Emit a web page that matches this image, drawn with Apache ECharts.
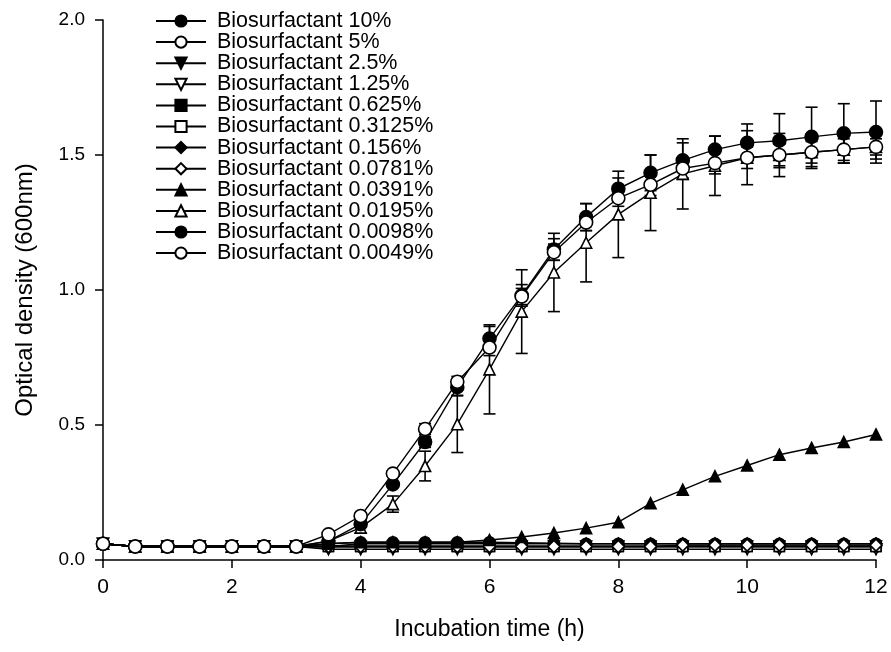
<!DOCTYPE html>
<html><head><meta charset="utf-8">
<script src="https://cdn.jsdelivr.net/npm/echarts@6/dist/echarts.min.js"></script>
<style>html,body{margin:0;padding:0;background:#fff}#c{width:891px;height:652px}</style>
</head><body><div id="c"></div>
<script>
const times = [0,0.5,1,1.5,2,2.5,3,3.5,4,4.5,5,5.5,6,6.5,7,7.5,8,8.5,9,9.5,10,10.5,11,11.5,12];
const seriesNames = ["Biosurfactant 10%","Biosurfactant 5%","Biosurfactant 2.5%","Biosurfactant 1.25%","Biosurfactant 0.625%","Biosurfactant 0.3125%","Biosurfactant 0.156%","Biosurfactant 0.0781%","Biosurfactant 0.0391%","Biosurfactant 0.0195%","Biosurfactant 0.0098%","Biosurfactant 0.0049%"];
const od10     = [0.06,0.05,0.05,0.05,0.05,0.05,0.05,0.06,0.066,0.066,0.066,0.066,0.066,0.064,0.062,0.06,0.06,0.06,0.06,0.06,0.06,0.06,0.06,0.06,0.06];
const od5      = [0.06,0.05,0.05,0.05,0.05,0.05,0.05,0.05,0.05,0.05,0.05,0.05,0.05,0.05,0.05,0.05,0.05,0.05,0.05,0.05,0.05,0.05,0.05,0.05,0.05];
const od2_5    = [0.06,0.05,0.05,0.05,0.05,0.05,0.05,0.05,0.05,0.05,0.05,0.05,0.05,0.05,0.05,0.05,0.05,0.05,0.05,0.05,0.05,0.05,0.05,0.05,0.05];
const od1_25   = [0.06,0.05,0.05,0.05,0.05,0.05,0.05,0.04,0.04,0.04,0.04,0.04,0.04,0.04,0.04,0.04,0.04,0.04,0.04,0.04,0.04,0.04,0.04,0.04,0.04];
const od0_625  = [0.06,0.05,0.05,0.05,0.05,0.05,0.05,0.05,0.05,0.05,0.05,0.05,0.05,0.05,0.05,0.05,0.05,0.05,0.05,0.05,0.05,0.05,0.05,0.05,0.05];
const od0_3125 = [0.06,0.05,0.05,0.05,0.05,0.05,0.05,0.05,0.05,0.05,0.05,0.05,0.05,0.05,0.05,0.05,0.05,0.05,0.05,0.05,0.05,0.05,0.05,0.05,0.05];
const od0_156  = [0.06,0.05,0.05,0.05,0.05,0.05,0.05,0.05,0.06,0.06,0.06,0.06,0.06,0.06,0.06,0.06,0.06,0.06,0.06,0.06,0.06,0.06,0.06,0.06,0.06];
const od0_0781 = [0.06,0.05,0.05,0.05,0.05,0.05,0.05,0.05,0.05,0.05,0.05,0.05,0.05,0.05,0.05,0.05,0.05,0.05,0.055,0.055,0.055,0.055,0.055,0.055,0.055];
const od0_0391 = [0.06,0.05,0.05,0.05,0.05,0.05,0.05,0.06,0.066,0.066,0.066,0.066,0.074,0.085,0.10,0.118,0.14,0.21,0.26,0.31,0.35,0.39,0.415,0.437,0.465];
const od0_0195 = [0.06,0.05,0.05,0.05,0.05,0.05,0.05,0.07,0.12,0.207,0.348,0.503,0.706,0.92,1.065,1.175,1.28,1.36,1.43,1.46,1.49,1.50,1.51,1.52,1.53];
const od0_0098 = [0.06,0.05,0.05,0.05,0.05,0.05,0.05,0.07,0.133,0.28,0.437,0.64,0.82,0.98,1.15,1.27,1.375,1.434,1.48,1.52,1.545,1.553,1.567,1.58,1.585];
const od0_0049 = [0.06,0.05,0.05,0.05,0.05,0.05,0.05,0.095,0.163,0.32,0.485,0.66,0.787,0.976,1.14,1.25,1.34,1.39,1.45,1.47,1.49,1.50,1.51,1.52,1.53];
const err0_0195 = [0,0,0,0,0,0,0,0,0.02,0.03,0.055,0.105,0.165,0.155,0.145,0.145,0.16,0.14,0.13,0.11,0.10,0.08,0.06,0.05,0.045];
const err0_0098 = [0,0,0,0,0,0,0,0,0.01,0.01,0.02,0.03,0.045,0.04,0.04,0.05,0.04,0.066,0.065,0.05,0.07,0.10,0.11,0.11,0.115];
const err0_0049 = [0,0,0,0,0,0,0,0,0.01,0.01,0.02,0.02,0.03,0.03,0.03,0.03,0.03,0.04,0.04,0.04,0.04,0.04,0.04,0.04,0.03];
const xTicks = [0,2,4,6,8,10,12];
const yTicks = [0,0.5,1.0,1.5,2.0];

const valuesList = [od10,od5,od2_5,od1_25,od0_625,od0_3125,od0_156,od0_0781,od0_0391,od0_0195,od0_0098,od0_0049];
const markers = [
  {s:'circle',f:true,r:0,z:11},{s:'circle',f:false,r:0,z:11},
  {s:'triangle',f:true,r:180,z:11},{s:'triangle',f:false,r:180,z:11},
  {s:'rect',f:true,r:0,z:10},{s:'rect',f:false,r:0,z:10},
  {s:'diamond',f:true,r:0,z:12},{s:'diamond',f:false,r:0,z:12},
  {s:'triangle',f:true,r:0,z:11},{s:'triangle',f:false,r:0,z:11},
  {s:'circle',f:true,r:0,z:13},{s:'circle',f:false,r:0,z:13}
];
const FONT = 'Liberation Sans, Arial, sans-serif';
const series = seriesNames.map((name,i)=>({
  name, type:'line', data: times.map((t,j)=>[t, valuesList[i][j]]),
  symbol: markers[i].s, symbolSize: markers[i].z, symbolRotate: markers[i].r,
  showSymbol:true,
  lineStyle:{color:'#000',width:1.4},
  itemStyle:{color: markers[i].f ? '#000' : '#fff', borderColor:'#000', borderWidth:1.6},
  emphasis:{disabled:true}, z: 3 + i
}));
function errSeries(vals, errs){
  return {
    type:'custom', z:2, silent:true,
    data: times.map((t,j)=>[t, vals[j], errs[j]]).filter(d=>d[2]>0),
    renderItem(params, api){
      const x=api.value(0), y=api.value(1), e=api.value(2);
      const top=api.coord([x,y+e]), bot=api.coord([x,y-e]);
      const w=6;
      const st={stroke:'#000',lineWidth:1.6};
      return {type:'group',children:[
        {type:'line',shape:{x1:top[0],y1:top[1],x2:bot[0],y2:bot[1]},style:st},
        {type:'line',shape:{x1:top[0]-w,y1:top[1],x2:top[0]+w,y2:top[1]},style:st},
        {type:'line',shape:{x1:bot[0]-w,y1:bot[1],x2:bot[0]+w,y2:bot[1]},style:st}
      ]};
    }
  };
}
series.push(errSeries(od0_0195, err0_0195));
series.push(errSeries(od0_0098, err0_0098));
series.push(errSeries(od0_0049, err0_0049));

const chart = echarts.init(document.getElementById('c'), null, {renderer:'canvas'});
chart.setOption({
  animation:false,
  backgroundColor:'#fff',
  grid:{left:103,right:15,top:20,bottom:92},
  legend:{
    data: seriesNames, orient:'vertical', left:150, top:5,
    itemWidth:50, itemHeight:14, itemGap:-0.9,
    textStyle:{fontFamily:FONT,fontSize:21.5,color:'#000',lineHeight:19,padding:[0,0,0,6]},
    selectedMode:false
  },
  xAxis:{
    type:'value', min:0, max:12, interval:2,
    name:'Incubation time (h)', nameLocation:'middle', nameGap:58,
    nameTextStyle:{fontFamily:FONT,fontSize:23,color:'#000'},
    axisLine:{show:true,lineStyle:{color:'#000',width:1.5}},
    axisTick:{show:true,length:8,lineStyle:{color:'#000',width:1.5}},
    axisLabel:{fontFamily:FONT,fontSize:21,color:'#000',margin:17,
      formatter:v=> xTicks.includes(v)? String(v):''},
    splitLine:{show:false}
  },
  yAxis:{
    type:'value', min:0, max:2, interval:0.5,
    name:'Optical density (600nm)', nameLocation:'middle', nameGap:66,
    nameTextStyle:{fontFamily:FONT,fontSize:24,color:'#000'},
    axisLine:{show:true,lineStyle:{color:'#000',width:1.5}},
    axisTick:{show:true,length:8,lineStyle:{color:'#000',width:1.5}},
    axisLabel:{fontFamily:FONT,fontSize:19,color:'#000',margin:18,
      formatter:v=> yTicks.includes(v)? v.toFixed(1):''},
    splitLine:{show:false}
  },
  series
});
</script></body></html>
